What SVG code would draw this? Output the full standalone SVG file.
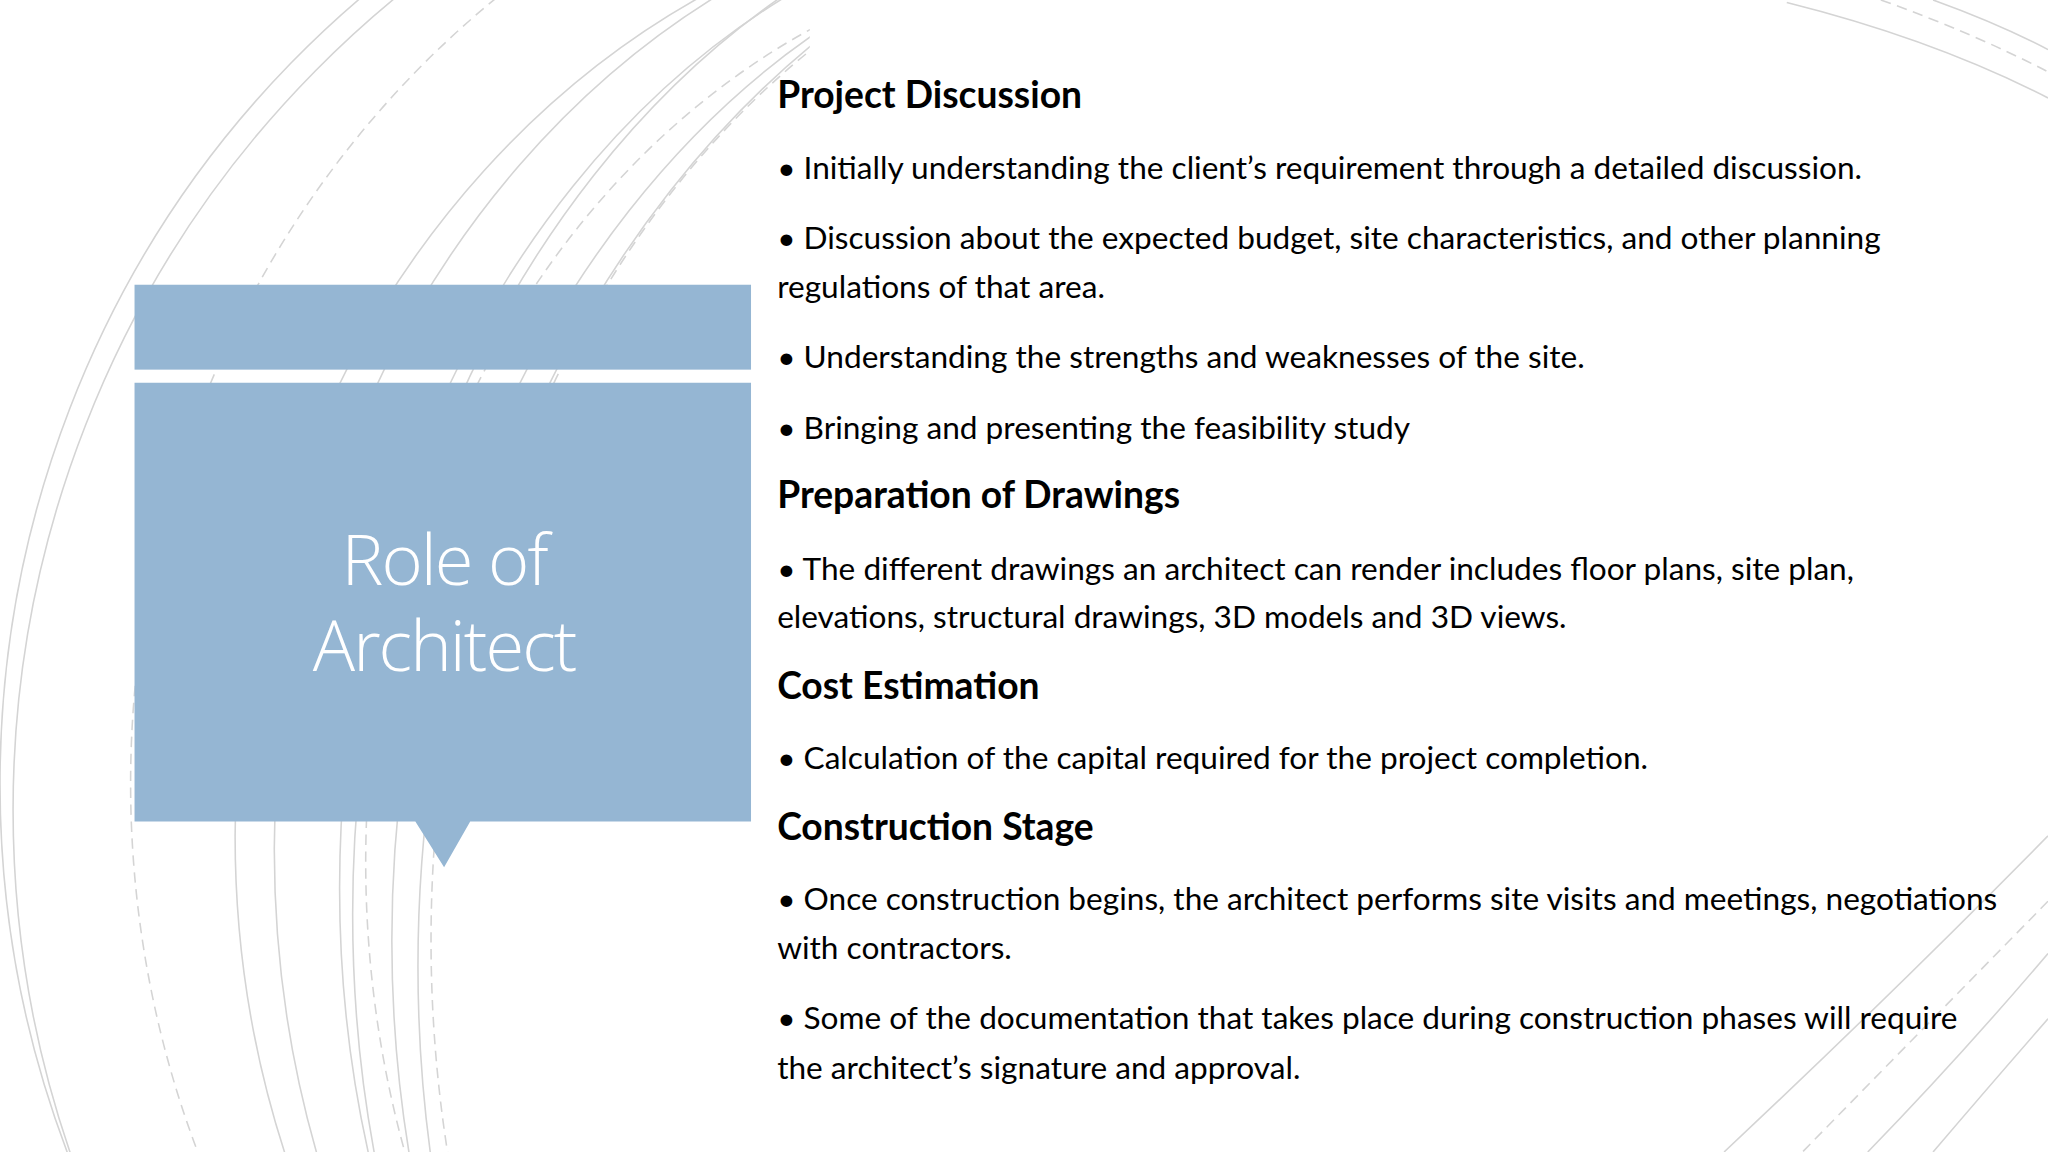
<svg xmlns="http://www.w3.org/2000/svg" width="2048" height="1152" viewBox="0 0 2048 1152">
<defs>
<clipPath id="cl"><rect x="0" y="0" width="620" height="882"/></clipPath>
</defs>
<style>
.a{fill:none;stroke:#d4d4d4;stroke-width:1.2}
.d{fill:none;stroke:#d4d4d4;stroke-width:1.2;stroke-dasharray:8 5}
.h{font-family:Lato,"Liberation Sans",sans-serif;font-weight:bold;font-size:28.5px;fill:#000}
.b{font-family:Lato,"Liberation Sans",sans-serif;font-size:24.2px;fill:#000}
.t{font-family:"Open Sans","Liberation Sans",sans-serif;font-weight:300;font-size:54px;letter-spacing:-1.5px;fill:#fff;text-anchor:middle}
</style>
<rect width="2048" height="1152" fill="#fff"/>
<g transform="scale(1.30612)">
<g id="bg-left" clip-path="url(#cl)">
<ellipse class="a" cx="760" cy="600" rx="760" ry="780"/>
<ellipse class="a" cx="800" cy="620" rx="790" ry="800"/>
<ellipse class="d" cx="820" cy="600" rx="720" ry="760"/>
<ellipse class="a" cx="830" cy="640" rx="650" ry="720"/>
<ellipse class="a" cx="850" cy="650" rx="640" ry="740"/>
<ellipse class="d" cx="860" cy="660" rx="580" ry="700"/>
<ellipse class="a" cx="870" cy="680" rx="610" ry="760"/>
<ellipse class="a" cx="900" cy="700" rx="630" ry="800"/>
<ellipse class="a" cx="920" cy="720" rx="620" ry="790"/>
<ellipse class="d" cx="940" cy="720" rx="610" ry="800"/>
<ellipse class="a" cx="980" cy="740" rx="660" ry="840"/>
</g>
<g id="bg-right">
<path class="a" d="M1368 2Q1480 30 1568 75"/>
<path class="d" d="M1440 0Q1510 25 1568 55"/>
<path class="a" d="M1480 0Q1530 18 1568 38"/>
<path class="a" d="M1568 640Q1450 760 1320 882"/>
<path class="d" d="M1568 690Q1470 790 1380 882"/>
<path class="a" d="M1568 730Q1500 810 1430 882"/>
<path class="a" d="M1568 780Q1520 835 1480 882"/>
</g>
<g id="box-top"><rect x="103" y="218" width="472" height="65" fill="#95b6d3"/></g>
<g id="box-main">
<path d="M103 293H575V629H360L340 664L318 629H103Z" fill="#95b6d3"/>
<text class="t" x="340" y="448">Role of</text>
<text class="t" x="340" y="514">Architect</text>
</g>
<g id="content">
<text class="h" x="595" y="83">Project Discussion</text>
<text class="b" x="595" y="137">• Initially understanding the client’s requirement through a detailed discussion.</text>
<text class="b" x="595" y="191">• Discussion about the expected budget, site characteristics, and other planning</text>
<text class="b" x="595" y="228">regulations of that area.</text>
<text class="b" x="595" y="282">• Understanding the strengths and weaknesses of the site.</text>
<text class="b" x="595" y="336">• Bringing and presenting the feasibility study</text>
<text class="h" x="595" y="389">Preparation of Drawings</text>
<text class="b" x="595" y="444">• The different drawings an architect can render includes floor plans, site plan,</text>
<text class="b" x="595" y="481">elevations, structural drawings, 3D models and 3D views.</text>
<text class="h" x="595" y="535">Cost Estimation</text>
<text class="b" x="595" y="589">• Calculation of the capital required for the project completion.</text>
<text class="h" x="595" y="643">Construction Stage</text>
<text class="b" x="595" y="697">• Once construction begins, the architect performs site visits and meetings, negotiations</text>
<text class="b" x="595" y="734">with contractors.</text>
<text class="b" x="595" y="788">• Some of the documentation that takes place during construction phases will require</text>
<text class="b" x="595" y="826">the architect’s signature and approval.</text>
</g>
</g>
</svg>
